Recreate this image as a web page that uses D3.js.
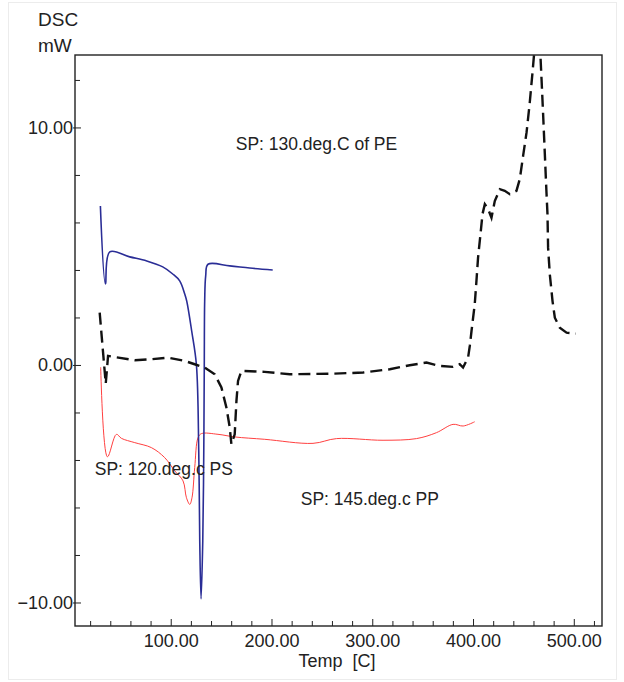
<!DOCTYPE html>
<html>
<head>
<meta charset="utf-8">
<script src="https://cdn.jsdelivr.net/npm/d3@7"></script>
<style>
  body { margin: 0; background: #fff; }
  svg text { font-family: "Liberation Sans", Arial, sans-serif; fill: #222; }
</style>
</head>
<body>
<svg width="624" height="682"></svg>
<script>
// DSC curves, values (temp C, mW)
const blueTemp = [30.2, 35.2, 39.5, 59.3, 76.2, 92.1, 102.0, 108.9, 113.9, 115.9, 120.8, 125.5, 127.8, 128.8, 130.1, 131.8, 132.8, 133.3, 133.7, 134.7, 137.0, 158.6, 178.4, 201.2]
const blueDsc  = [6.69, 3.41, 4.76, 4.55, 4.38, 4.13, 3.83, 3.54, 2.99, 2.69, 1.43, 0.0, -3.62, -7.41, -9.85, -7.41, -3.62, 0.0, 2.69, 3.75, 4.24, 4.17, 4.08, 4.0]

const redTemp = [30.5, 37.2, 46.1, 51.1, 64.3, 80.8, 94.0, 104.0, 112.2, 115.6, 118.9, 121.1, 123.8, 127.1, 130.5, 146.9, 163.5, 193.3, 241.2, 264.5, 310.7, 343.9, 363.7, 380.2, 390.2, 401.7]
const redDsc  = [-0.1, -3.87, -2.92, -3.09, -3.27, -3.48, -3.9, -4.46, -4.88, -5.59, -5.87, -5.59, -4.32, -3.06, -2.89, -2.92, -3.03, -3.13, -3.3, -3.1, -3.17, -3.1, -2.85, -2.5, -2.57, -2.39]

const blackTemp = [29.5, 35.5, 37.8, 64.3, 80.8, 97.3, 113.9, 123.8, 133.7, 143.7, 150.3, 155.3, 158.6, 160.2, 163.5, 165.2, 166.8, 170.2, 193.3, 218.1, 257.8, 290.9, 317.4, 337.2, 353.8, 367, 380.2, 386.8, 390.1, 395.1, 396.8, 398.5, 401.7, 403.4, 405, 407.4, 409.4, 411.7, 415, 418.3, 421.6, 426.6, 431.5, 436.5, 443.1, 446.4, 449.7, 453.1, 456.3, 459, 460.3, 463.8, 467, 468, 469.5, 471.2, 472.9, 473.9, 474.5, 476.2, 478.9, 481.2, 486.1, 492.8, 502]
const blackDsc  = [2.2, -0.79, 0.38, 0.2, 0.24, 0.31, 0.17, 0.03, -0.11, -0.39, -0.95, -1.8, -2.64, -3.34, -2.92, -1.52, -0.67, -0.25, -0.29, -0.39, -0.37, -0.32, -0.18, -0.01, 0.1, -0.04, -0.08, 0.03, -0.11, 0.31, 0.8, 1.43, 2.55, 3.54, 4.52, 5.5, 6.35, 6.77, 6.56, 6.2, 6.9, 7.4, 7.33, 7.19, 7.33, 7.82, 8.8, 9.78, 11.04, 12.3, 12.94, 14.6, 12.94, 12.03, 10.62, 8.94, 7.26, 6.35, 4.94, 3.82, 2.69, 1.99, 1.57, 1.36, 1.32]

const xTicks = d3.range(20, 521, 20)
const yTicks = d3.range(-10, 13, 2)
const notes = [
  {text: 'SP: 130.deg.C of PE', t: 164.5, v: 9.05},
  {text: 'SP: 120.deg.c PS', t: 24.6, v: -4.63},
  {text: 'SP: 145.deg.c PP', t: 229, v: -5.9}
]

const svg = d3.select('svg')
const margin = {top: 55, right: 22, bottom: 56, left: 75}
const width = +svg.attr('width') - margin.left - margin.right
const height = +svg.attr('height') - margin.top - margin.bottom

// faint outer frame
svg.append('rect').attr('x', 8.5).attr('y', 2.5).attr('width', 608).attr('height', 677)
  .attr('fill', 'none').attr('stroke', '#ececec')

const x = d3.scaleLinear().domain([5, 528]).range([0, width])
const y = d3.scaleLinear().domain([-10.99, 13.05]).range([height, 0])

const g = svg.append('g').attr('transform', `translate(${margin.left},${margin.top})`)

g.append('clipPath').attr('id', 'clip')
  .append('rect').attr('width', width).attr('height', height)

const xAxis = g.append('g').attr('transform', `translate(0,${height})`)
  .call(d3.axisBottom(x).tickValues(xTicks).tickSize(-5).tickPadding(8)
    .tickFormat(d => d % 100 === 0 ? d3.format('.2f')(d) : ''))
xAxis.select('.domain').remove()
xAxis.selectAll('.tick line').attr('stroke', '#222').attr('y2', d => d % 100 === 0 ? -7 : -5)
xAxis.selectAll('text').style('font-size', '18px')

const yAxis = g.append('g')
  .call(d3.axisLeft(y).tickValues(yTicks).tickSize(-5).tickPadding(2)
    .tickFormat(d => d % 10 === 0 ? d3.format('.2f')(d) : ''))
yAxis.select('.domain').remove()
yAxis.selectAll('.tick line').attr('stroke', '#222')
  .attr('x1', d => d % 10 === 0 ? -2 : 0).attr('x2', d => d % 10 === 0 ? 6 : 5)
yAxis.selectAll('text').style('font-size', '18px')

g.append('rect').attr('width', width).attr('height', height)
  .attr('fill', 'none').attr('stroke', '#222').attr('stroke-width', 1.4)

const line = d3.line().x(d => x(d[0])).y(d => y(d[1]))
const smooth = d3.line().x(d => x(d[0])).y(d => y(d[1])).curve(d3.curveCatmullRom.alpha(0.5))
const plot = g.append('g').attr('clip-path', 'url(#clip)')

plot.append('path').datum(d3.zip(redTemp, redDsc))
  .attr('d', smooth).attr('fill', 'none').attr('stroke', '#ff4040').attr('stroke-width', 1)
plot.append('path').datum(d3.zip(blueTemp, blueDsc))
  .attr('d', smooth).attr('fill', 'none').attr('stroke', '#2a2d96').attr('stroke-width', 1.6)
plot.append('path').datum(d3.zip(blackTemp, blackDsc))
  .attr('d', line).attr('fill', 'none').attr('stroke', '#111').attr('stroke-width', 2.4)
  .attr('stroke-dasharray', '12,6')

notes.forEach(n => {
  g.append('text').attr('x', x(n.t)).attr('y', y(n.v))
    .style('font-size', '17.5px').text(n.text)
})

svg.append('text').attr('x', 38).attr('y', 26).style('font-size', '19px').text('DSC')
svg.append('text').attr('x', 38).attr('y', 52).style('font-size', '19px').text('mW')
svg.append('text').attr('x', 337).attr('y', 667).attr('text-anchor', 'middle')
  .style('font-size', '18px').style('white-space', 'pre').text('Temp  [C]')
</script>
</body>
</html>
